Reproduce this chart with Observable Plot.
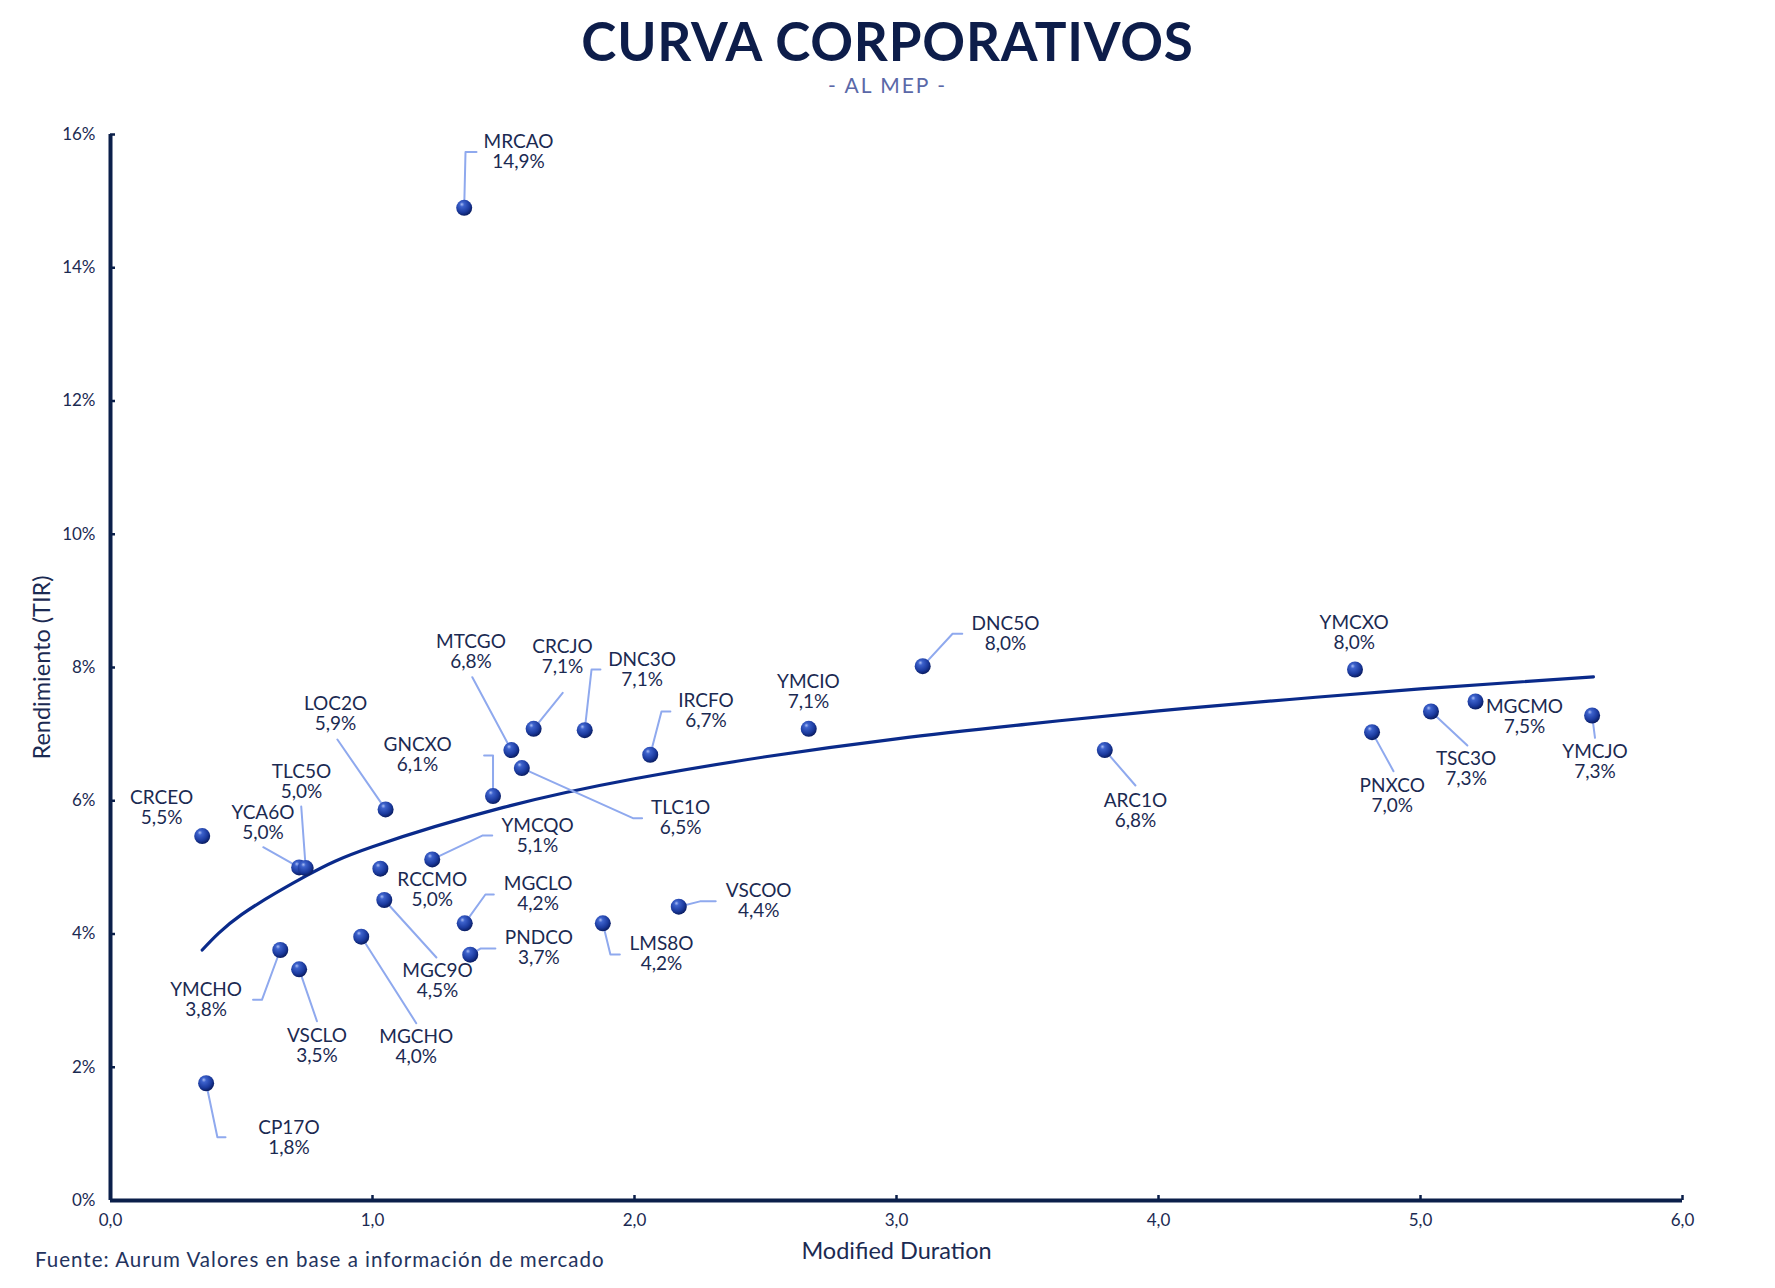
<!DOCTYPE html>
<html><head><meta charset="utf-8">
<script src="https://cdn.jsdelivr.net/npm/d3@7"></script>
<script src="https://cdn.jsdelivr.net/npm/@observablehq/plot@0.6"></script>
<style>
html,body{margin:0;padding:0;background:#fff;}
#wrap{position:relative;width:1775px;height:1288px;font-family:Lato,"Open Sans",sans-serif;overflow:hidden;}
#title{position:absolute;left:0;width:1775px;top:14px;text-align:center;font-size:53px;line-height:53px;font-weight:700;color:#0d1d4a;letter-spacing:0.8px;}
#subtitle{position:absolute;left:0;width:1775px;top:74px;text-align:center;font-size:21px;line-height:22px;color:#5a68a8;letter-spacing:2px;}
#chart{position:absolute;left:0;top:110px;}
#caption{position:absolute;left:35px;top:1247px;font-size:20.5px;line-height:24px;color:#23335e;letter-spacing:1px;}
g[aria-label="labels"] text{letter-spacing:1.2px;}
g[aria-label="axis-titles"] text{letter-spacing:1.4px;}
g[aria-label="bonds"] circle{filter:drop-shadow(1px 2px 1.5px rgba(0,0,0,0.35));}
</style></head>
<body><div id="wrap">
<div id="title">CURVA CORPORATIVOS</div>
<div id="subtitle">- AL MEP -</div>
<div id="chart"></div>
<div id="caption">Fuente: Aurum Valores en base a información de mercado</div>
</div>
<script>
// ---- data ----
const bonds = ["MRCAO","CRCEO","YCA6O","TLC5O","LOC2O","GNCXO","MTCGO","TLC1O","CRCJO","DNC3O","IRCFO","YMCIO","DNC5O","ARC1O","YMCXO","PNXCO","TSC3O","MGCMO","YMCJO","RCCMO","YMCQO","MGC9O","MGCLO","PNDCO","MGCHO","LMS8O","VSCOO","YMCHO","VSCLO","CP17O"];
const duration = [1.35,0.35,0.72,0.745,1.05,1.46,1.53,1.57,1.615,1.81,2.06,2.665,3.10,3.795,4.75,4.815,5.04,5.21,5.655,1.03,1.228,1.045,1.352,1.373,0.957,1.879,2.169,0.648,0.72,0.365];
const yieldPct = [14.9,5.47,5.0,4.99,5.87,6.07,6.76,6.49,7.08,7.06,6.69,7.08,8.02,6.76,7.97,7.03,7.34,7.49,7.28,4.98,5.12,4.51,4.16,3.69,3.96,4.16,4.41,3.76,3.47,1.76];

// trend curve
const trendDuration = [0.35,0.5,0.75,1,1.5,2,2.5,3,3.5,4,4.5,5,5.66];
const trendYield = [3.76,4.29,4.88,5.31,5.90,6.33,6.66,6.93,7.15,7.35,7.52,7.68,7.86];

const xTicks = [0,1,2,3,4,5,6];
const yTicks = [0,2,4,6,8,10,12,14,16];

// ---- label layout (label centre + leader path, in chart units) ----
const labelLayout = {
  MRCAO:{lx:1.557,ly:15.737,path:[[1.355,15.737],[1.397,15.737]]},
  CRCEO:{lx:0.195,ly:5.891,path:[]},
  YCA6O:{lx:0.582,ly:5.674,path:[[0.583,5.303]]},
  TLC5O:{lx:0.729,ly:6.289,path:[[0.728,5.914]]},
  LOC2O:{lx:0.859,ly:7.310,path:[[0.866,6.919]]},
  GNCXO:{lx:1.172,ly:6.687,path:[[1.460,6.679],[1.426,6.679]]},
  MTCGO:{lx:1.376,ly:8.233,path:[[1.381,7.854]]},
  TLC1O:{lx:2.176,ly:5.753,path:[[1.994,5.738],[2.029,5.738]]},
  CRCJO:{lx:1.725,ly:8.158,path:[[1.726,7.620]]},
  DNC3O:{lx:2.029,ly:7.975,path:[[1.836,7.970],[1.870,7.970]]},
  IRCFO:{lx:2.273,ly:7.355,path:[[2.103,7.340],[2.137,7.340]]},
  YMCIO:{lx:2.664,ly:7.644,path:[]},
  DNC5O:{lx:3.416,ly:8.510,path:[[3.214,8.506],[3.251,8.506]]},
  ARC1O:{lx:3.912,ly:5.849,path:[[3.912,6.229]]},
  YMCXO:{lx:4.747,ly:8.530,path:[]},
  PNXCO:{lx:4.892,ly:6.074,path:[[4.897,6.444]]},
  TSC3O:{lx:5.174,ly:6.480,path:[[5.179,6.829]]},
  MGCMO:{lx:5.397,ly:7.265,path:[]},
  YMCJO:{lx:5.666,ly:6.585,path:[[5.666,6.945]]},
  RCCMO:{lx:1.228,ly:4.668,path:[]},
  YMCQO:{lx:1.630,ly:5.478,path:[[1.419,5.478],[1.457,5.478]]},
  MGC9O:{lx:1.248,ly:3.298,path:[[1.244,3.647]]},
  MGCLO:{lx:1.632,ly:4.612,path:[[1.431,4.593],[1.463,4.593]]},
  PNDCO:{lx:1.635,ly:3.802,path:[[1.412,3.782],[1.469,3.782]]},
  MGCHO:{lx:1.167,ly:2.311,path:[[1.167,2.661]]},
  LMS8O:{lx:2.103,ly:3.703,path:[[1.908,3.692],[1.944,3.692]]},
  VSCOO:{lx:2.474,ly:4.507,path:[[2.25,4.49],[2.31,4.49]]},
  YMCHO:{lx:0.365,ly:3.012,path:[[0.578,3.012],[0.544,3.012]]},
  VSCLO:{lx:0.788,ly:2.326,path:[[0.788,2.691]]},
  CP17O:{lx:0.681,ly:0.941,path:[[0.408,0.950],[0.439,0.950]]}
};

// ---- build tables ----
const pts = bonds.map((name,i) => ({name, x: duration[i], y: yieldPct[i]}));
const trend = trendDuration.map((x,i) => ({x, y: trendYield[i]}));
const fmtPct = v => v.toFixed(1).replace(".", ",") + "%";
const labels = pts.map(p => ({...p, lx: labelLayout[p.name].lx, ly: labelLayout[p.name].ly}));
const leaders = [];
pts.forEach(p => {
  const path = labelLayout[p.name].path;
  if (path.length) {
    leaders.push({name:p.name, x:p.x, y:p.y});
    path.forEach(([x,y]) => leaders.push({name:p.name, x, y}));
  }
});

const navy = "#0b1f4a";
const textColor = "#1b2a52";

const chart = Plot.plot({
  width: 1775,
  height: 1178,
  marginTop: 24,
  marginBottom: 88,
  marginLeft: 110,
  marginRight: 93,
  style: {fontFamily: "Lato, 'Open Sans', sans-serif", fontSize: "17px", color: textColor, background: "white"},
  x: {domain: [0, 6]},
  y: {domain: [0, 16]},
  marks: [
    Plot.axisX(xTicks, {tickSize: -5, tickPadding: 18, strokeWidth: 2.5, stroke: navy, fill: textColor, fontSize: 17, tickFormat: d => d.toFixed(1).replace(".", ","), label: null}),
    Plot.axisY(yTicks, {tickSize: -5, tickPadding: 20, strokeWidth: 2.5, stroke: navy, fill: textColor, fontSize: 17, tickFormat: d => d + "%", label: null}),
    Plot.ruleY([0], {stroke: navy, strokeWidth: 4}),
    Plot.ruleX([0], {stroke: navy, strokeWidth: 4}),
    Plot.text(["Modified Duration"], {frameAnchor: "bottom", dy: 51, textAnchor: "middle", lineAnchor: "middle", fontSize: 23.5, fill: textColor, ariaLabel: "axis-titles"}),
    Plot.text(["Rendimiento (TIR)"], {frameAnchor: "left", dx: -68, rotate: -90, textAnchor: "middle", lineAnchor: "middle", fontSize: 23.5, fill: textColor, ariaLabel: "axis-titles"}),
    Plot.line(trend, {x: "x", y: "y", curve: "natural", stroke: "#0a2a8a", strokeWidth: 3.2}),
    Plot.line(leaders, {x: "x", y: "y", z: "name", stroke: "#8fa9ee", strokeWidth: 2, curve: "linear"}),
    Plot.dot(pts, {x: "x", y: "y", r: 8, fill: "url(#ball)", stroke: "none", ariaLabel: "bonds"}),
    Plot.text(labels, {x: "lx", y: "ly", text: d => d.name + "\n" + fmtPct(d.y), lineAnchor: "middle", textAnchor: "middle", fontSize: 19, lineHeight: 1.05, fill: textColor, ariaLabel: "labels"})
  ]
});

const svg = d3.select(chart.tagName === "svg" ? chart : chart.querySelector("svg"));
const defs = svg.insert("defs", ":first-child");
const g = defs.append("radialGradient").attr("id", "ball").attr("cx", "40%").attr("cy", "35%").attr("r", "65%").attr("fx", "35%").attr("fy", "28%");
g.append("stop").attr("offset", "0%").attr("stop-color", "#a9bdf5");
g.append("stop").attr("offset", "22%").attr("stop-color", "#3d62cc");
g.append("stop").attr("offset", "70%").attr("stop-color", "#1b3a9e");
g.append("stop").attr("offset", "100%").attr("stop-color", "#0a1d62");
document.getElementById("chart").appendChild(chart);
</script>
</body></html>
